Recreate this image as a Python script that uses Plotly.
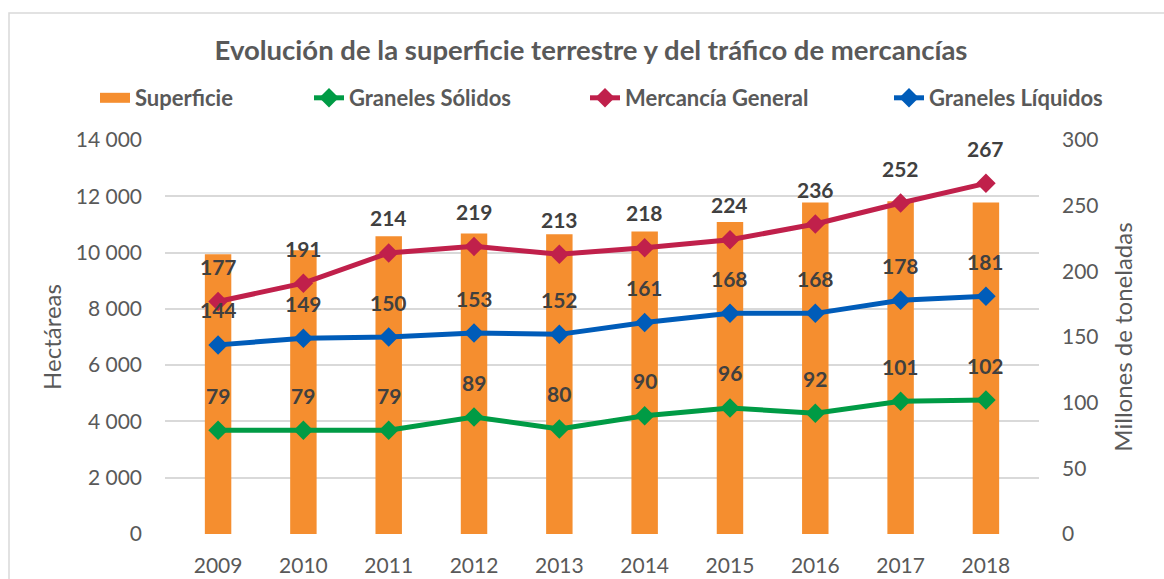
import plotly.graph_objects as go

years = ["2009", "2010", "2011", "2012", "2013", "2014", "2015", "2016", "2017", "2018"]
superficie = [9940, 10080, 10580, 10675, 10650, 10745, 11090, 11775, 11820, 11775]
graneles_solidos = [79, 79, 79, 89, 80, 90, 96, 92, 101, 102]
mercancia_general = [177, 191, 214, 219, 213, 218, 224, 236, 252, 267]
graneles_liquidos = [144, 149, 150, 153, 152, 161, 168, 168, 178, 181]

left_ticks = [0, 2000, 4000, 6000, 8000, 10000, 12000, 14000]
left_ticktext = ["0", "2 000", "4 000", "6 000", "8 000", "10 000", "12 000", "14 000"]
right_ticks = [0, 50, 100, 150, 200, 250, 300]

ORANGE = "#F58E2F"
GREEN = "#009B45"
RED = "#C0204B"
BLUE = "#005CB9"
TXT = "#595959"
LBL = "#404040"
FONT = "Lato"

W, H = 1164, 579
ML, MR, MT, MB = 165, 125, 140, 45

fig = go.Figure()
fig.add_trace(go.Bar(x=years, y=superficie, name="Superficie", marker_color=ORANGE,
                     marker_line_width=0, showlegend=False, yaxis="y"))
# legend entry for the bars (wide swatch like the original)
fig.add_trace(go.Scatter(x=[None], y=[None], name="Superficie", mode="lines",
                         line=dict(color=ORANGE, width=14), legend="legend",
                         hoverinfo="skip"))

line_series = [
    ("Graneles Sólidos", graneles_solidos, GREEN, "legend2"),
    ("Mercancía General", mercancia_general, RED, "legend3"),
    ("Graneles Líquidos", graneles_liquidos, BLUE, "legend4"),
]
annotations = []
for name, vals, col, lg in line_series:
    fig.add_trace(go.Scatter(x=years, y=vals, name=name, mode="lines+markers",
                             line=dict(color=col, width=5),
                             marker=dict(symbol="diamond", size=15, color=col),
                             yaxis="y2", legend=lg))
    for i, yv in enumerate(vals):
        annotations.append(dict(x=i, y=yv, xref="x", yref="y2", text=str(yv),
                                showarrow=False, yshift=35,
                                font=dict(family=FONT, size=21, color=LBL, weight="bold")))

def px2cx(px):
    return px / W

def py2cy(py):
    return 1 - py / H

legend_common = dict(xref="container", yref="container", yanchor="middle", xanchor="left",
                     orientation="h", bgcolor="rgba(0,0,0,0)",
                     font=dict(family=FONT, size=22, color=TXT, weight="bold"))
leg_y = py2cy(98)
fig.update_layout(
    legend=dict(x=px2cx(135 - 40), y=leg_y, **legend_common),
    legend2=dict(x=px2cx(349 - 40), y=leg_y, **legend_common),
    legend3=dict(x=px2cx(625 - 40), y=leg_y, **legend_common),
    legend4=dict(x=px2cx(929 - 40), y=leg_y, **legend_common),
)

pw = W - ML - MR
ph = H - MT - MB
def pxx(px):
    return (px - ML) / pw
def pxy(py):
    return (H - MB - py) / ph

fig.add_shape(type="rect", xref="paper", yref="paper",
              x0=pxx(9), x1=pxx(1180), y0=pxy(600), y1=pxy(13),
              line=dict(color="#D9D9D9", width=1.5), fillcolor="rgba(0,0,0,0)", layer="below")

fig.update_layout(
    width=W, height=H, autosize=False,
    margin=dict(l=ML, r=MR, t=MT, b=MB, pad=0, autoexpand=False),
    paper_bgcolor="white", plot_bgcolor="white",
    bargap=0.69,
    title=dict(text="Evolución de la superficie terrestre y del tráfico de mercancías",
               xref="container", yref="container", x=px2cx(591), y=py2cy(50),
               xanchor="center", yanchor="middle", automargin=False,
               font=dict(family=FONT, size=27.5, color=TXT, weight="bold")),
    xaxis=dict(type="category", showgrid=False, showline=False, ticks="", automargin=False,
               tickfont=dict(family=FONT, size=21, color=TXT), ticklabelstandoff=17),
    yaxis=dict(range=[0, 14000], tickvals=left_ticks, ticktext=left_ticktext,
               showgrid=True, gridcolor="#D9D9D9", gridwidth=1.5, zeroline=False,
               showline=False, ticks="", automargin=False,
               tickfont=dict(family=FONT, size=21, color=TXT), ticklabelstandoff=22,
               title=dict(text="Hectáreas", font=dict(family=FONT, size=24, color=TXT), standoff=7)),
    yaxis2=dict(range=[0, 300], tickvals=right_ticks, overlaying="y", side="right",
                showgrid=False, zeroline=False, showline=False, ticks="", automargin=False,
                tickfont=dict(family=FONT, size=21, color=TXT), ticklabelstandoff=22,
                title=dict(text="Millones de toneladas", font=dict(family=FONT, size=24, color=TXT), standoff=17)),
    annotations=annotations,
    showlegend=True,
)

fig.write_html("out.html", config={"displayModeBar": False},
               post_script="document.body.style.margin='0px';")
